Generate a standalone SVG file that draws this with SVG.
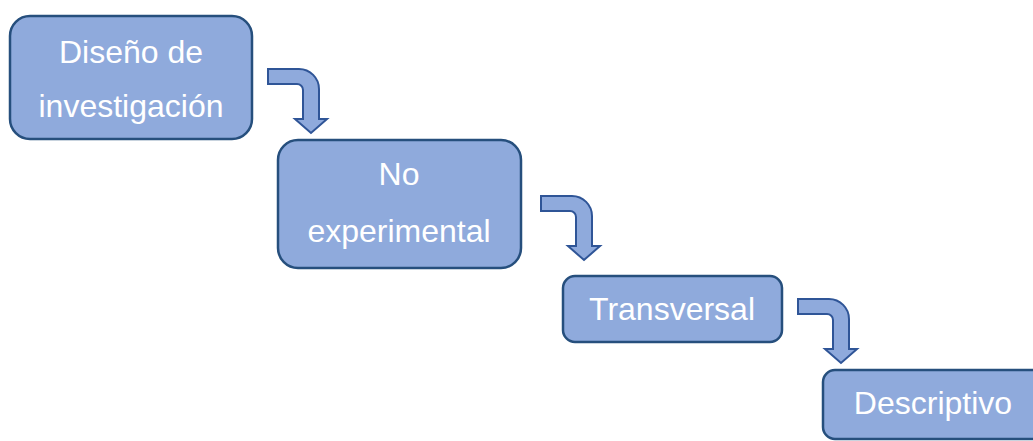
<svg xmlns="http://www.w3.org/2000/svg" width="1033" height="441" viewBox="0 0 1033 441">
<style>
.box{fill:#8FAADC;stroke:#264F7D;stroke-width:2.5}
.arr{fill:#8FAADC;stroke:#2F5597;stroke-width:2;stroke-linejoin:miter}
.t{font-family:"Liberation Sans",Arial,sans-serif;font-size:32px;fill:#FFFFFF;text-anchor:middle}
</style>
<defs>
<path id="bent" d="M0 0 L31 0 A20 20 0 0 1 51 20 L51 50 L59 50 L43 64 L27 50 L35 50 L35 21 A6 6 0 0 0 29 15 L0 15 Z"/>
</defs>
<rect width="1033" height="441" fill="#FFFFFF"/>
<g id="connectors">
<use href="#bent" class="arr" transform="translate(268,69)"/>
<use href="#bent" class="arr" transform="translate(541,196)"/>
<use href="#bent" class="arr" transform="translate(798,299)"/>
</g>
<g id="node1">
<rect class="box" x="10" y="16" width="242" height="123" rx="20"/>
<text class="t" x="131" y="63">Diseño de</text>
<text class="t" x="131" y="117">investigación</text>
</g>
<g id="node2">
<rect class="box" x="278" y="140" width="243" height="128" rx="20"/>
<text class="t" x="399" y="185">No</text>
<text class="t" x="399" y="242">experimental</text>
</g>
<g id="node3">
<rect class="box" x="563" y="276" width="219" height="66" rx="12"/>
<text class="t" x="672" y="320">Transversal</text>
</g>
<g id="node4">
<rect class="box" x="823" y="370" width="240" height="69" rx="12"/>
<text class="t" x="933" y="414">Descriptivo</text>
</g>
</svg>
